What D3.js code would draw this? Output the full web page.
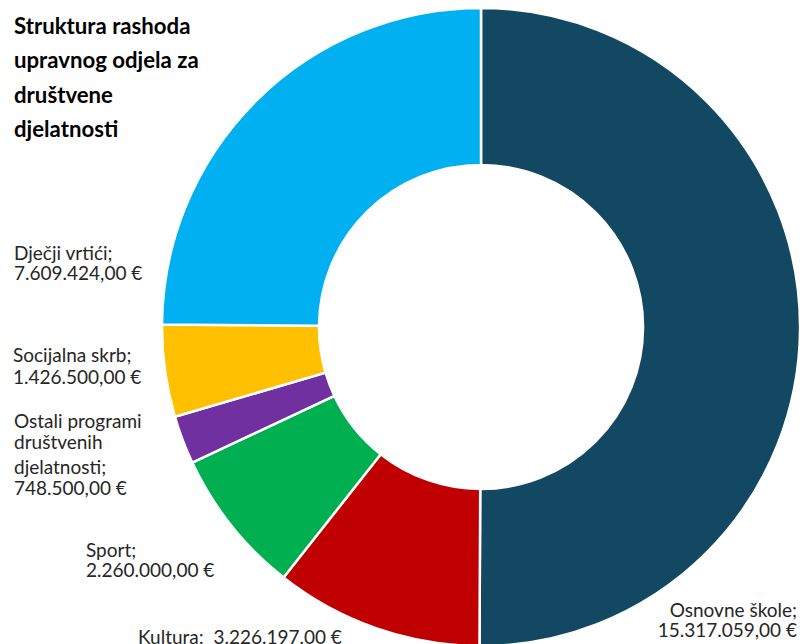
<!DOCTYPE html>
<html>
<head>
<meta charset="utf-8">
<script src="https://cdn.jsdelivr.net/npm/d3@7"></script>
<style>
  html, body { margin: 0; padding: 0; background: #ffffff; overflow: hidden; }
  svg { display: block; font-family: Lato, "Open Sans", sans-serif; }
  .label { font-size: 19px; fill: #262626; white-space: pre; }
  .title { font-size: 22.2px; font-weight: bold; fill: #000000; }
</style>
</head>
<body>
<svg id="chart"></svg>
<script>
// chart data
var categories = ["Osnovne škole", "Kultura", "Sport", "Ostali programi društvenih djelatnosti", "Socijalna skrb", "Dječji vrtići"];
var values = [15317059, 3226197, 2260000, 748500, 1426500, 7609424];
var colors = ["#134862", "#C00000", "#00B050", "#7030A0", "#FFC000", "#00B0F0"];
var titleLines = ["Struktura rashoda", "upravnog odjela za", "društvene", "djelatnosti"];

// how each label breaks into lines (the value goes in place of {v})
var labelLines = [
  ["Osnovne škole;", "{v}"],
  ["Kultura;  {v}"],
  ["Sport;", "{v}"],
  ["Ostali programi", "društvenih", "djelatnosti;", "{v}"],
  ["Socijalna skrb;", "{v}"],
  ["Dječji vrtići;", "{v}"]
];

// label placement (first baseline + anchor), like the data labels in the original
var labelPos = [
  { x: 797, y: 617, anchor: "end", dy: [0, 20] },
  { x: 138, y: 644, anchor: "start", dy: [0] },
  { x: 86, y: 557, anchor: "start", dy: [0, 20] },
  { x: 14, y: 428, anchor: "start", dy: [0, 21, 25, 21] },
  { x: 13, y: 362, anchor: "start", dy: [0, 22] },
  { x: 14, y: 260, anchor: "start", dy: [0, 20] }
];

var width = 811, height = 644;
var cx = 481, cy = 327;
var outerR = 319, innerR = 162;

var hr = d3.formatLocale({ decimal: ",", thousands: ".", grouping: [3], currency: ["", " €"] });
var fmt = hr.format("$,.2f");

var svg = d3.select("#chart").attr("width", width).attr("height", height);

var data = categories.map(function(c, i) { return { name: c, value: values[i], color: colors[i], idx: i }; });

var pie = d3.pie().sort(null).value(function(d) { return d.value; });
var arc = d3.arc().innerRadius(innerR).outerRadius(outerR);

var g = svg.append("g").attr("transform", "translate(" + cx + "," + cy + ")");

g.selectAll("path")
  .data(pie(data))
  .enter().append("path")
    .attr("d", arc)
    .style("fill", function(d) { return d.data.color; })
    .style("stroke", "#ffffff")
    .style("stroke-width", 2.5)
    .style("stroke-linejoin", "miter");

// data labels
var labels = svg.append("g").attr("class", "labels");
data.forEach(function(d, i) {
  var p = labelPos[i];
  var t = labels.append("text")
    .attr("class", "label")
    .attr("x", p.x)
    .attr("y", p.y)
    .attr("text-anchor", p.anchor);
  labelLines[i].forEach(function(line, j) {
    t.append("tspan")
      .attr("x", p.x)
      .attr("dy", p.dy[j])
      .text(line.replace("{v}", fmt(d.value)));
  });
});

// title
var title = svg.append("text").attr("class", "title").attr("x", 14).attr("y", 34);
titleLines.forEach(function(line, j) {
  title.append("tspan").attr("x", 14).attr("dy", j === 0 ? 0 : 34.3).text(line);
});
</script>
</body>
</html>
